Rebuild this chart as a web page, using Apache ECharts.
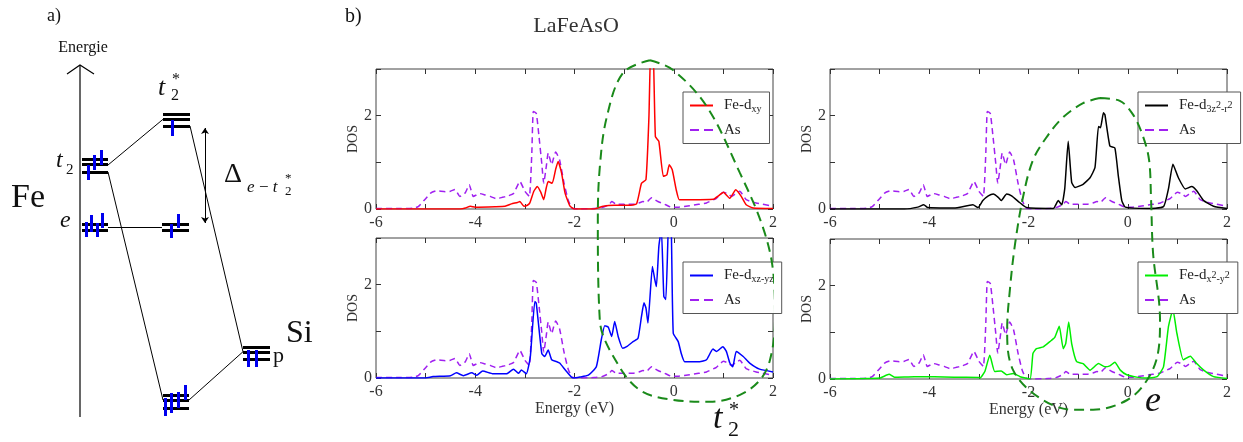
<!DOCTYPE html>
<html><head><meta charset="utf-8">
<script src="https://cdn.jsdelivr.net/npm/echarts@6/dist/echarts.min.js"></script>
<style>html,body{margin:0;padding:0;background:#fff}#c{width:1243px;height:442px}</style>
</head><body><div id="c"></div>
<script>
// ---------- DATA ----------
// energy axis (eV)
const energyMin = -6, energyMax = 2;
const dosMin = 0, dosMax = 3;
// As partial DOS (same in all four panels) [energy, DOS]
const asDos = [[-6,0.01],[-5.5,0.01],[-5.25,0.02],[-5.15,0.05],[-5.0,0.22],[-4.9,0.34],[-4.78,0.39],[-4.6,0.37],[-4.5,0.38],[-4.41,0.42],[-4.31,0.27],[-4.2,0.35],[-4.12,0.52],[-4.04,0.27],[-3.91,0.33],[-3.8,0.3],[-3.7,0.27],[-3.57,0.22],[-3.45,0.25],[-3.37,0.27],[-3.23,0.33],[-3.1,0.59],[-3.0,0.38],[-2.91,0.27],[-2.86,1.2],[-2.83,2.09],[-2.77,2.05],[-2.72,1.6],[-2.66,0.98],[-2.62,0.55],[-2.57,0.9],[-2.53,1.2],[-2.46,0.95],[-2.42,1.1],[-2.38,1.22],[-2.3,1.05],[-2.21,0.55],[-2.13,0.2],[-2.05,0.02],[-1.9,0.0],[-1.6,0.01],[-1.45,0.03],[-1.3,0.1],[-1.25,0.16],[-1.15,0.1],[-1.0,0.1],[-0.82,0.1],[-0.7,0.13],[-0.62,0.16],[-0.55,0.14],[-0.45,0.24],[-0.38,0.2],[-0.32,0.16],[-0.18,0.1],[-0.05,0.04],[0.1,0.04],[0.32,0.07],[0.5,0.1],[0.66,0.13],[0.86,0.23],[1.0,0.36],[1.1,0.32],[1.16,0.27],[1.25,0.33],[1.33,0.38],[1.46,0.2],[1.66,0.13],[2.0,0.06]];
// Fe-d_xy
const feDxy = [[-6,0],[-4.3,0.0],[-4.2,0.02],[-4.1,0.06],[-4.0,0.04],[-3.6,0.05],[-3.4,0.06],[-3.27,0.11],[-3.15,0.14],[-3.1,0.16],[-3.02,0.06],[-2.95,0.08],[-2.9,0.13],[-2.82,0.38],[-2.75,0.48],[-2.68,0.36],[-2.62,0.2],[-2.57,0.45],[-2.53,0.59],[-2.45,0.55],[-2.38,0.85],[-2.33,1.02],[-2.26,0.77],[-2.19,0.34],[-2.09,0.06],[-2.0,0.0],[-1.6,0.0],[-1.42,0.06],[-1.2,0.08],[-0.9,0.08],[-0.75,0.11],[-0.65,0.55],[-0.56,0.63],[-0.5,1.98],[-0.46,3.6],[-0.42,3.6],[-0.37,1.55],[-0.3,1.45],[-0.21,0.7],[-0.14,0.73],[-0.09,0.95],[-0.03,0.84],[0.05,0.41],[0.11,0.2],[0.2,0.2],[0.8,0.21],[0.9,0.28],[1.0,0.36],[1.13,0.23],[1.25,0.41],[1.36,0.27],[1.46,0.09],[1.6,0.02],[2.0,0.01]];
// Fe-d_xz-yz
const feDxzyz = [[-6,0],[-5.0,0.0],[-4.85,0.03],[-4.5,0.05],[-4.38,0.11],[-4.24,0.05],[-4.07,0.11],[-3.97,0.06],[-3.85,0.15],[-3.64,0.09],[-3.37,0.09],[-3.23,0.19],[-3.13,0.1],[-3.07,0.17],[-2.97,0.09],[-2.89,0.46],[-2.8,1.64],[-2.77,1.6],[-2.66,0.53],[-2.6,0.46],[-2.53,0.6],[-2.46,0.39],[-2.36,0.35],[-2.3,0.32],[-2.16,0.14],[-2.03,0.0],[-1.89,0.02],[-1.72,0.06],[-1.56,0.24],[-1.46,0.82],[-1.39,1.12],[-1.32,1.09],[-1.25,0.89],[-1.19,1.21],[-1.12,0.89],[-1.03,0.64],[-0.95,0.67],[-0.82,0.78],[-0.72,0.85],[-0.65,1.32],[-0.6,1.61],[-0.56,1.5],[-0.52,1.18],[-0.43,2.39],[-0.38,2.1],[-0.35,1.96],[-0.3,2.82],[-0.25,3.2],[-0.2,1.75],[-0.16,1.68],[-0.11,3.2],[-0.08,3.3],[-0.05,3.2],[-0.01,0.96],[0.09,0.78],[0.15,0.53],[0.22,0.35],[0.52,0.35],[0.66,0.39],[0.79,0.62],[0.86,0.57],[0.99,0.67],[1.06,0.57],[1.13,0.32],[1.19,0.24],[1.26,0.57],[1.4,0.46],[1.53,0.32],[1.73,0.19],[2.0,0.13]];
// Fe-d_3z2-r2
const feD3z2r2 = [[-6,0],[-4.5,0.0],[-4.23,0.04],[-4.11,0.09],[-4.03,0.03],[-3.5,0.02],[-3.12,0.09],[-3.02,0.03],[-2.92,0.18],[-2.81,0.28],[-2.71,0.32],[-2.61,0.25],[-2.55,0.18],[-2.44,0.32],[-2.34,0.28],[-2.18,0.14],[-2.04,0.03],[-1.5,0.01],[-1.4,0.18],[-1.33,0.09],[-1.27,0.43],[-1.2,1.45],[-1.13,0.57],[-1.06,0.46],[-0.9,0.53],[-0.76,0.67],[-0.66,0.89],[-0.59,1.77],[-0.55,1.74],[-0.49,2.06],[-0.46,2.02],[-0.36,1.35],[-0.26,1.31],[-0.19,0.71],[-0.12,0.18],[-0.05,0.04],[0.38,0.01],[0.72,0.05],[0.82,0.43],[0.91,0.96],[1.02,0.67],[1.16,0.43],[1.29,0.48],[1.39,0.39],[1.53,0.18],[1.73,0.06],[2.0,0.01]];
// Fe-d_x2-y2
const feDx2y2 = [[-6,0],[-5.0,0.02],[-4.81,0.1],[-4.7,0.04],[-4.3,0.05],[-3.5,0.04],[-3.0,0.03],[-2.98,0.02],[-2.88,0.16],[-2.78,0.51],[-2.68,0.16],[-2.55,0.17],[-2.44,0.09],[-2.31,0.12],[-2.17,0.05],[-1.97,0.0],[-1.91,0.55],[-1.84,0.65],[-1.7,0.69],[-1.57,0.8],[-1.47,0.89],[-1.38,1.13],[-1.3,0.65],[-1.25,0.76],[-1.19,1.22],[-1.13,0.76],[-1.03,0.37],[-0.9,0.33],[-0.76,0.19],[-0.59,0.33],[-0.46,0.26],[-0.36,0.28],[-0.26,0.36],[-0.15,0.19],[-0.02,0.09],[0.18,0.04],[0.38,0.02],[0.59,0.05],[0.72,0.26],[0.82,1.12],[0.91,1.49],[0.99,0.98],[1.12,0.41],[1.26,0.49],[1.39,0.33],[1.53,0.19],[1.73,0.05],[2.0,0.01]];
// hand-drawn annotation loops, in [energy, stacked-DOS] units (0 = lower panel baseline)
const loopT2 = [[-0.48,6.81],[-0.015,6.6],[0.67,5.81],[1.335,4.39],[1.78,3.28],[2.0,2.31],[2.04,1.24],[1.94,0.39],[1.74,-0.04],[1.335,-0.36],[0.73,-0.51],[-0.015,-0.47],[-0.68,-0.26],[-1.14,0.32],[-1.49,1.24],[-1.53,3.39],[-1.49,4.52],[-1.35,5.59],[-1.02,6.54],[-0.48,6.81]];
const loopE = [[-0.56,6.02],[-0.16,5.96],[0.11,5.66],[0.31,5.19],[0.43,4.69],[0.47,3.84],[0.51,2.7],[0.65,1.26],[0.61,0.56],[0.39,-0.02],[-0.01,-0.45],[-0.70,-0.66],[-1.10,-0.66],[-1.77,-0.41],[-2.31,0.19],[-2.43,1.05],[-2.37,1.97],[-2.27,2.9],[-2.11,3.9],[-1.91,4.69],[-1.63,5.19],[-1.30,5.61],[-0.90,5.91],[-0.56,6.02]];
// panel a schematic (arbitrary x position, energy up)
const levelLines = [[82,108,283],[82,108,278],[82,108,270],[82,108,218],[82,108,212],
  [163,190,328],[163,190,323],[163,190,316],[162,189,218],[162,189,212],
  [163,189,47],[163,189,42],[163,189,34],[243,270,95],[243,270,90],[243,270,83]];
const electrons = [[88,277,262],[94,287,272],[101.5,292,277],
  [86,220,205],[91,227,210],[97,219,205],[102,229,214],
  [171,218,204],[178,228,214],[172,322,306],
  [165,44,26],[171.5,49,29],[178,50,34],[185,57,42],[248,92,75],[256,92,75]];
const connectors = [[[108,277],[163,322.7]],[[108,270],[163,42]],[[108,214.7],[162,214.7]],[[190,316],[243,90.3]],[[189,42],[243,90.3]]];
const energyAxisLine = [[80,25],[80,377]];
const energyArrowHead = [[67,368],[80,377],[94,368]];
const deltaArrow = [[205,314],[205,219]];

// ---------- CHART ----------
const serif = '"Liberation Serif","DejaVu Serif",serif';
const panels = [
  {grid:{left:376, top:69, width:397, height:140}, name:'Fe-dxy', color:'#ff0000', data:feDxy, xName:'', legend:{left:683, top:92}},
  {grid:{left:376, top:238, width:397, height:140}, name:'Fe-dxz-yz', color:'#0000ff', data:feDxzyz, xName:'Energy (eV)', legend:{left:683, top:262}},
  {grid:{left:830, top:69, width:397, height:140}, name:'Fe-d3z2-r2', color:'#000000', data:feD3z2r2, xName:'', legend:{left:1138, top:92}},
  {grid:{left:830, top:239, width:397, height:140}, name:'Fe-dx2-y2', color:'#00ee00', data:feDx2y2, xName:'Energy (eV)', legend:{left:1138, top:262}}
];
const richNames = {
  'Fe-dxy':'{n|Fe-d}{s|xy}',
  'Fe-dxz-yz':'{n|Fe-d}{s|xz-yz}',
  'Fe-d3z2-r2':'{n|Fe-d}{s|3z}{p|2}{s|-r}{p|2}',
  'Fe-dx2-y2':'{n|Fe-d}{s|x}{p|2}{s|-y}{p|2}',
  'As':'{n|As}'
};
const solidIcon = 'path://M0,0h23v2h-23z';
const dashIcon = 'path://M0,0h9v2h-9zM14,0h9v2h-9z';
const grids=[], xAxes=[], yAxes=[], series=[], legends=[];
const tickCol = '#333';
panels.forEach((p,i)=>{
  grids.push(Object.assign({show:true, borderColor:'#444', borderWidth:1, backgroundColor:'transparent', containLabel:false}, p.grid));
  const baseX = {gridIndex:i, type:'value', min:energyMin, max:energyMax, interval:1, splitLine:{show:false}, axisLine:{show:false, onZero:false},
    axisTick:{inside:true, length:5, lineStyle:{color:tickCol}}};
  xAxes.push(Object.assign({}, baseX, {position:'bottom',
    axisLabel:{fontFamily:serif, fontSize:16, color:'#333', margin:6, formatter:v=> (v%2===0? String(v):'')},
    name:p.xName, nameLocation:'middle', nameGap:22, nameTextStyle:{fontFamily:serif, fontSize:16, color:'#333'}}));
  xAxes.push(Object.assign({}, baseX, {position:'top', axisLabel:{show:false}}));
  const baseY = {gridIndex:i, type:'value', min:dosMin, max:dosMax, interval:1, splitLine:{show:false}, axisLine:{show:false, onZero:false},
    axisTick:{inside:true, length:5, lineStyle:{color:tickCol}}};
  yAxes.push(Object.assign({}, baseY, {position:'left',
    axisLabel:{fontFamily:serif, fontSize:16, color:'#333', margin:4, formatter:v=> (v%2===0? String(v):'')},
    name:'DOS', nameLocation:'middle', nameGap:16, nameTextStyle:{fontFamily:serif, fontSize:14, color:'#333'}}));
  yAxes.push(Object.assign({}, baseY, {position:'right', axisLabel:{show:false}}));
  series.push({type:'line', name:'As', xAxisIndex:2*i, yAxisIndex:2*i, data:asDos, symbol:'none', smooth:0.15, clip:true,
    lineStyle:{color:'#a020f0', width:1.5, type:[6,4]}, itemStyle:{color:'#a020f0'}, z:2, silent:true});
  series.push({type:'line', name:p.name, xAxisIndex:2*i, yAxisIndex:2*i, data:p.data, symbol:'none', smooth:0.15, clip:true,
    lineStyle:{color:p.color, width:1.5}, itemStyle:{color:p.color}, z:3, silent:true});
  legends.push(Object.assign({data:[{name:p.name, icon:solidIcon},{name:'As', icon:dashIcon}], orient:'vertical', itemWidth:23, itemHeight:12, itemGap:8,
    padding:[6,8,6,7], borderColor:'#555', borderWidth:1, backgroundColor:'#fff', selectedMode:false, z:4,
    formatter:n=>richNames[n],
    textStyle:{fontFamily:serif, fontSize:15, color:'#222', padding:[0,0,0,6],
      rich:{n:{fontFamily:serif, fontSize:15, lineHeight:18, color:'#222'},
            s:{fontFamily:serif, fontSize:10, lineHeight:8, verticalAlign:'bottom', color:'#222'},
            p:{fontFamily:serif, fontSize:10, lineHeight:18, verticalAlign:'middle', color:'#222'}}}}, p.legend));
});
// overlay grids for annotation loops (4: left column, 5: right column)
const ppu = 140/3;
[{left:376, base:378},{left:830, base:379}].forEach((o,k)=>{
  const gi = grids.length;
  grids.push({left:o.left, width:397, top:o.base-7*ppu, height:8*ppu, show:false});
  xAxes.push({gridIndex:gi, type:'value', min:energyMin, max:energyMax, show:false});
  yAxes.push({gridIndex:gi, type:'value', min:-1, max:7, show:false});
  series.push({type:'line', xAxisIndex:xAxes.length-1, yAxisIndex:yAxes.length-1, data:k===0?loopT2:loopE, symbol:'none',
    smooth:0.35, clip:false, silent:true, z:10, lineStyle:{color:'#1a8a1a', width:2, type:[10,6]}});
});
// panel a grid
const ga = grids.length;
grids.push({left:0, top:0, width:340, height:442, show:false});
xAxes.push({gridIndex:ga, type:'value', min:0, max:340, show:false});
yAxes.push({gridIndex:ga, type:'value', min:0, max:442, show:false});
const axA = xAxes.length-1, ayA = yAxes.length-1;
series.push({type:'lines', coordinateSystem:'cartesian2d', xAxisIndex:axA, yAxisIndex:ayA, silent:true, z:5,
  lineStyle:{color:'#000', width:1, opacity:1}, data:connectors.map(c=>({coords:c}))});
series.push({type:'lines', coordinateSystem:'cartesian2d', xAxisIndex:axA, yAxisIndex:ayA, silent:true, z:6,
  lineStyle:{color:'#000', width:3, opacity:1}, data:levelLines.map(l=>({coords:[[l[0],l[2]],[l[1],l[2]]]}))});
series.push({type:'lines', coordinateSystem:'cartesian2d', xAxisIndex:axA, yAxisIndex:ayA, silent:true, z:7,
  lineStyle:{color:'#0000ee', width:3, opacity:1}, data:electrons.map(e=>({coords:[[e[0],e[1]],[e[0],e[2]]]}))});
series.push({type:'lines', coordinateSystem:'cartesian2d', xAxisIndex:axA, yAxisIndex:ayA, polyline:true, silent:true, z:5,
  lineStyle:{color:'#000', width:1.2, opacity:1}, data:[{coords:energyAxisLine},{coords:energyArrowHead}]});
series.push({type:'lines', coordinateSystem:'cartesian2d', xAxisIndex:axA, yAxisIndex:ayA, silent:true, z:5,
  symbol:['arrow','arrow'], symbolSize:6, lineStyle:{color:'#000', width:1, opacity:1}, data:[{coords:deltaArrow}]});

function T(text, x, y, size, opts){
  opts = opts||{};
  return {type:'text', z:20, silent:true, style:{text:text, x:x, y:y,
    font:(opts.italic?'italic ':'')+size+'px '+serif, fill:opts.fill||'#111',
    textAlign:opts.align||'left', textVerticalAlign:'middle'}};
}
const graphics = [
  T('a)',47,16,18), T('Energie',83,48,16,{align:'center'}), T('Fe',28,198,34,{align:'center'}),
  T('t',56,161,24,{italic:true}), T('2',66,170,15),
  T('e',60,221,24,{italic:true}),
  T('t',158,88,26,{italic:true}), T('2',171,96,16), T('*',172,80,16),
  T('\u0394',224,175,28), T('e\u2009\u2212\u2009t',247,188,17,{italic:true}), T('*',285,179,13), T('2',285,192,13),
  T('Si',286,334,32), T('p',273,356,22),
  T('b)',345,17,20), T('LaFeAsO',576,26,22,{align:'center', fill:'#333'}),
  T('t',713,419,34,{italic:true}), T('2',728,430,22), T('*',729,411,20),
  T('e',1153,402,36,{italic:true, align:'center'})
];

const chart = echarts.init(document.getElementById('c'), null, {renderer:'canvas'});
chart.setOption({animation:false, backgroundColor:'#fff', grid:grids, xAxis:xAxes, yAxis:yAxes, series:series, legend:legends, graphic:graphics});
</script></body></html>
